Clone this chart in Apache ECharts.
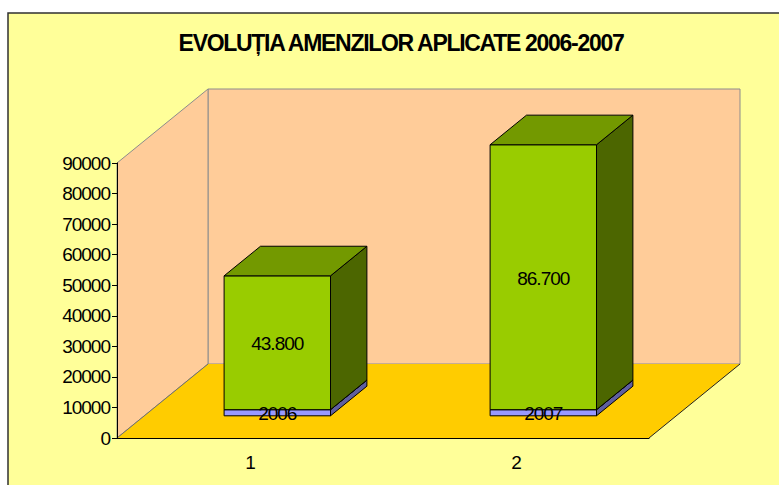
<!DOCTYPE html>
<html>
<head>
<meta charset="utf-8">
<title>Evolutia amenzilor</title>
<script src="https://cdn.jsdelivr.net/npm/echarts@6/dist/echarts.min.js"></script>
<style>
html, body { margin: 0; padding: 0; background: #fff; }
#chart { width: 779px; height: 485px; }
/* the original has tightly set Arial, svg text picks this up */
#chart text { letter-spacing: -1px; }
#chart text[style*="bold"] { letter-spacing: -1.3px; }
</style>
</head>
<body>
<div id="chart"></div>
<script>
var categories = ['1', '2'];
var years = [2006, 2007];
var amounts = [43800, 86700];
var yTicks = { min: 0, max: 90000, interval: 10000 };

var FONT = '"Liberation Sans", Arial, sans-serif';
// depth of the 3d box, in pixels
var DEPTH_X = 91;
var DEPTH_Y = -74;
var BAR_FRONT = 0.3;   // bars sit between 30% and 70% of the depth
var BAR_BACK = 0.7;
var BAR_WIDTH = 0.4;   // part of the category band

function poly(points, fill, stroke, width) {
  return {
    type: 'polygon',
    shape: { points: points },
    style: { fill: fill, stroke: stroke || 'none', lineWidth: width || 1 }
  };
}

function renderWalls(params) {
  var c = params.coordSys;
  var x0 = c.x, x1 = c.x + c.width;
  var top = c.y, bot = c.y + c.height;
  var dx = DEPTH_X, dy = DEPTH_Y;
  return {
    type: 'group',
    children: [
      poly([[x0 + dx, top + dy], [x1 + dx, top + dy], [x1 + dx, bot + dy], [x0 + dx, bot + dy]], '#FFCC99', '#8c8c8c'),
      poly([[x0, top], [x0 + dx, top + dy], [x0 + dx, bot + dy], [x0, bot]], '#FFCC99', '#8c8c8c'),
      poly([[x0, bot], [x1, bot], [x1 + dx, bot + dy], [x0 + dx, bot + dy]], '#FFCC00'),
      { type: 'line', shape: { x1: x0, y1: bot, x2: x0 + dx, y2: bot + dy }, style: { stroke: '#6e6e6e', lineWidth: 1 } },
      { type: 'line', shape: { x1: x1, y1: bot, x2: x1 + dx, y2: bot + dy }, style: { stroke: '#222', lineWidth: 1 } }
    ]
  };
}

// builds the box of one stacked segment
function makeBar(front, top, side) {
  return function (params, api) {
    var i = api.value(0);
    var half = api.size([1, 0])[0] * BAR_WIDTH / 2;
    var pBase = api.coord([i, api.value(1)]);
    var pEnd = api.coord([i, api.value(2)]);
    var fx = DEPTH_X * BAR_FRONT, fy = DEPTH_Y * BAR_FRONT;
    var bx = DEPTH_X * BAR_BACK, by = DEPTH_Y * BAR_BACK;
    var l = pBase[0] - half + fx, r = pBase[0] + half + fx;
    var b = pBase[1] + fy, t = pEnd[1] + fy;
    var rb = pBase[0] + half + bx;
    var bb = pBase[1] + by, tb = pEnd[1] + by;
    var edge = '#000';
    return {
      type: 'group',
      children: [
        poly([[l, t], [r, t], [r, b], [l, b]], front, edge),
        poly([[r, t], [rb, tb], [rb, bb], [r, b]], side, edge),
        poly([[l, t], [l + bx - fx, tb], [rb, tb], [r, t]], top, edge)
      ]
    };
  };
}

// labels go in their own series so the year text stays above the green box
function renderLabel(params, api) {
  var i = api.value(0);
  var pBase = api.coord([i, api.value(1)]);
  var pEnd = api.coord([i, api.value(2)]);
  return {
    type: 'text',
    style: {
      text: labelText[params.dataIndex],
      x: pBase[0] + DEPTH_X * BAR_FRONT,
      y: (pBase[1] + pEnd[1]) / 2 + DEPTH_Y * BAR_FRONT + 1,
      align: 'center',
      verticalAlign: 'middle',
      fontSize: 19,
      fontFamily: FONT,
      fill: '#000'
    }
  };
}

function thousands(v) {
  return String(v).replace(/\B(?=(\d{3})+$)/g, '.');
}

var yearData = years.map(function (v, i) { return [i, 0, v]; });
var amountData = amounts.map(function (v, i) { return [i, years[i], years[i] + v]; });
var labelText = years.map(String).concat(amounts.map(thousands));

var chart = echarts.init(document.getElementById('chart'), null, { renderer: 'svg' });
chart.setOption({
  animation: false,
  backgroundColor: '#fff',
  textStyle: { fontFamily: FONT },
  graphic: [{
    type: 'rect',
    z: -10,
    shape: { x: 8, y: 13, width: 790, height: 490 },
    style: { fill: '#FFFF99', stroke: '#303030', lineWidth: 1.5 }
  }],
  title: {
    text: 'EVOLUȚIA AMENZILOR APLICATE 2006-2007',
    left: 396,
    top: 26,
    textAlign: 'center',
    textStyle: { fontFamily: FONT, fontSize: 23, fontWeight: 'bold', color: '#000' }
  },
  grid: { left: 117, top: 163, width: 532, height: 275, containLabel: false },
  xAxis: {
    type: 'category',
    data: categories,
    z: 6,
    axisLine: { lineStyle: { color: '#000', width: 1 } },
    axisTick: { length: 6, lineStyle: { color: '#000' } },
    axisLabel: { margin: 15, fontSize: 19, fontFamily: FONT, color: '#000' },
    splitLine: { show: false }
  },
  yAxis: {
    type: 'value',
    min: yTicks.min,
    max: yTicks.max,
    interval: yTicks.interval,
    z: 6,
    axisLine: { show: true, lineStyle: { color: '#000', width: 1 } },
    axisTick: { show: true, length: 5, lineStyle: { color: '#000' } },
    axisLabel: { margin: 7, fontSize: 19, fontFamily: FONT, color: '#000', formatter: String },
    splitLine: { show: false }
  },
  series: [
    { type: 'custom', name: 'walls', z: 1, data: [[0, 0]], renderItem: renderWalls },
    {
      type: 'custom', name: 'an', z: 2, data: yearData,
      encode: { x: 0, y: 2 },
      renderItem: makeBar('#9999FF', '#7373BF', '#5F5F9F')
    },
    {
      type: 'custom', name: 'amenzi', z: 3, data: amountData,
      encode: { x: 0, y: 2 },
      renderItem: makeBar('#99CC00', '#739900', '#4C6600')
    },
    {
      type: 'custom', name: 'etichete', z: 4, data: yearData.concat(amountData),
      encode: { x: 0, y: 2 },
      renderItem: renderLabel
    }
  ]
});
</script>
</body>
</html>
